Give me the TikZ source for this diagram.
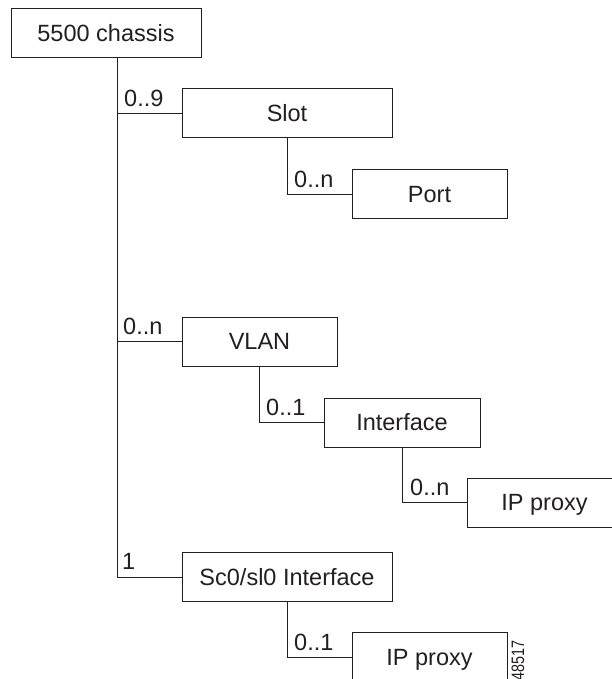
\documentclass[tikz,border=0pt]{standalone}
\usepackage{fontspec}
\setmainfont{Liberation Sans}
\definecolor{ink}{HTML}{231F20}
\tikzset{
  box/.style={draw=ink, line width=1pt, rectangle, inner sep=0pt,
    text=ink, font=\fontsize{23.5}{28}\selectfont,
    text height=16.8pt, text depth=0pt, minimum height=49pt},
  lbl/.style={inner sep=0pt, anchor=base west, text=ink,
    font=\fontsize{23.5}{28}\selectfont},
  conn/.style={draw=ink, line width=1pt}
}
\begin{document}
\begin{tikzpicture}[x=1pt,y=-1pt]
\useasboundingbox (0,0) rectangle (612,679);
\clip (0,0) rectangle (612,679);
\fill[white] (0,0) rectangle (612,679);
% boxes
\node[box, minimum width=190pt] (chassis) at (106,33.5) {5500 chassis};
\node[box, minimum width=210pt] (slot) at (287,113.5) {Slot};
\node[box, minimum width=155pt] (port) at (429.5,194) {Port};
\node[box, minimum width=155pt] (vlan) at (259.5,341.5) {VLAN};
\node[box, minimum width=156pt] (iface) at (402,422.5) {Interface};
\node[box, minimum width=155pt] (ipp1) at (544.5,502.5) {IP proxy};
\node[box, minimum width=210pt] (sc) at (287,577) {Sc0/sl0 Interface};
\node[box, minimum width=155pt] (ipp2) at (429.5,657) {IP proxy};
% trunk
\coordinate (trunk) at ([xshift=11pt]chassis.south);
\draw[conn] (trunk) |- (slot.west);
\draw[conn] (trunk) |- (vlan.west);
\draw[conn] (trunk) |- (sc.west);
\draw[conn] (slot.south) |- (port.west);
\draw[conn] (vlan.south) |- (iface.west);
\draw[conn] (iface.south) |- (ipp1.west);
\draw[conn] (sc.south) |- (ipp2.west);
% multiplicity labels
\node[lbl] (l1) at (124,107) {0..9};
\node[lbl] (l2) at (294,187) {0..n};
\node[lbl] (l3) at (123,334) {0..n};
\node[lbl] (l4) at (266,415) {0..1};
\node[lbl] (l5) at (410,495) {0..n};
\node[lbl] (l6) at (122,569) {1};
\node[lbl] (l7) at (294,650) {0..1};
% figure number
\node[rotate=90, anchor=base east, inner sep=0pt, text=ink,
  font=\fontsize{18}{20}\selectfont] (fig) at (524,640) {\scalebox{0.8}[1]{48517}};
\end{tikzpicture}
\end{document}
